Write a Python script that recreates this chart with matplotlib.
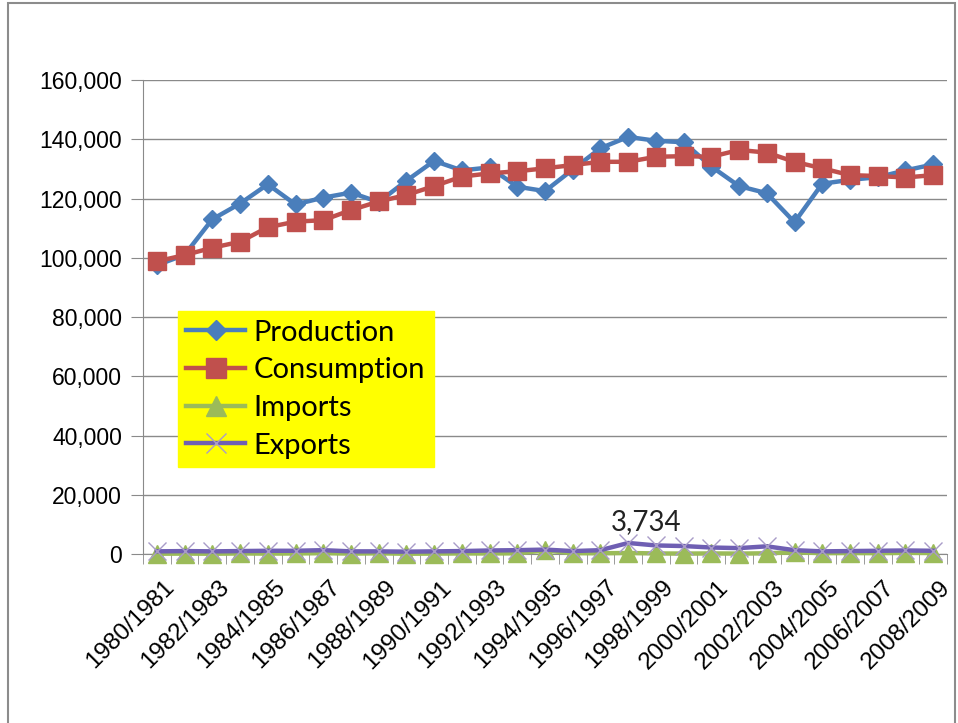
import numpy as np
import matplotlib.pyplot as plt
from matplotlib.patches import Rectangle
from matplotlib.ticker import FuncFormatter, MultipleLocator
from matplotlib.transforms import ScaledTranslation

# Marketing years 1980/1981 .. 2008/2009
years = [f"{y}/{y + 1}" for y in range(1980, 2009)]

production = [97500, 101000, 113000, 118300, 124800, 118000, 120300, 122000,
              118800, 126000, 132700, 129500, 130500, 124000, 122500, 129800,
              137000, 140800, 139500, 139000, 130800, 124200, 121800, 112000,
              125000, 126300, 127200, 129500, 131500]
consumption = [98800, 100900, 103400, 105400, 110300, 112200, 112700, 116100,
               119000, 121200, 124200, 127400, 128500, 129200, 130200, 131300,
               132400, 132400, 134100, 134300, 134100, 136400, 135500, 132400,
               130200, 127900, 127600, 127100, 127900]
imports = [100, 150, 100, 200, 150, 200, 300, 150, 250, 100, 150, 200, 200,
           250, 1200, 300, 250, 350, 200, 150, 200, 150, 250, 600, 300, 350,
           300, 400, 350]
exports = [900, 1000, 900, 1000, 1100, 1100, 1300, 900, 900, 800, 900, 1000,
           1200, 1300, 1500, 1000, 1300, 3734, 2900, 2700, 2200, 2000, 2600,
           1300, 900, 1000, 1100, 1200, 1100]

fig = plt.figure(figsize=(9.58, 7.23), dpi=100)
ax = fig.add_axes([0.1493, 0.2337, 0.8392, 0.6556])

x = np.arange(len(years))
ax.plot(x, production, color='#4a7ebb', lw=3.2, marker='D', ms=9,
        mfc='#4a7ebb', mec='#4a7ebb', label='Production', zorder=3)
ax.plot(x, consumption, color='#c0504d', lw=3.2, marker='s', ms=13,
        mfc='#c0504d', mec='#c0504d', label='Consumption', zorder=4)
ax.plot(x, imports, color='#9bbb59', lw=3.2, marker='^', ms=13,
        mfc='#9bbb59', mec='#9bbb59', label='Imports', zorder=5, clip_on=False)
ax.plot(x, exports, color='#6f5fb3', lw=3.2, marker='x', ms=13, mew=1,
        mec='#a99cc8', label='Exports', zorder=6, clip_on=False)

# label the export peak
peak = int(np.argmax(exports))
ax.annotate(f"{exports[peak]:,}", (x[peak], exports[peak]),
            xytext=(13, 9), textcoords='offset points', ha='center',
            va='baseline', fontsize=20, family='Lato', color='#222222')

ax.set_xlim(-0.5, len(years) - 0.5)
ax.set_ylim(0, 160000)
ax.yaxis.set_major_locator(MultipleLocator(20000))
ax.yaxis.set_major_formatter(FuncFormatter(lambda v, p: f"{int(v):,}"))
ax.grid(axis='y', color='#8a8a8a', lw=1)
ax.set_axisbelow(True)

ax.set_xticks(x[::2])
ax.set_xticklabels(years[::2], rotation=45, ha='right', va='top',
                   rotation_mode='anchor', fontsize=17.5, family='Liberation Sans')
ax.set_xticks(np.arange(-0.5, len(years)), minor=True)
ax.tick_params(axis='x', which='major', length=0, pad=16)
ax.tick_params(axis='x', which='minor', length=7, color='#8a8a8a', direction='out')
ax.tick_params(axis='y', length=9, color='#8a8a8a', pad=6, labelsize=16.5)
for t in ax.get_yticklabels():
    t.set_family('Liberation Sans')
shift = ScaledTranslation(6 / 100, 0, fig.dpi_scale_trans)
for t in ax.get_xticklabels():
    t.set_transform(t.get_transform() + shift)

for side in ('top', 'right'):
    ax.spines[side].set_visible(False)
for side in ('left', 'bottom'):
    ax.spines[side].set_color('#8a8a8a')

leg = ax.legend(loc='lower left', bbox_to_anchor=(0.043, 0.183),
                prop={'family': 'Lato', 'size': 21}, frameon=True,
                fancybox=False, facecolor='#ffff00', edgecolor='#ffff00',
                framealpha=1, handlelength=2.0, handletextpad=0.3,
                labelspacing=0.4, borderpad=0.3, borderaxespad=0,
                markerscale=1.1)
leg.set_zorder(10)

# outer frame around the chart area
fig.patches.append(Rectangle((8 / 958, -0.01), 947 / 958, 1 - 3 / 723 + 0.01,
                             transform=fig.transFigure, fill=False,
                             ec='#8c8c8c', lw=1.5))

fig.savefig('out.png', dpi=100)
